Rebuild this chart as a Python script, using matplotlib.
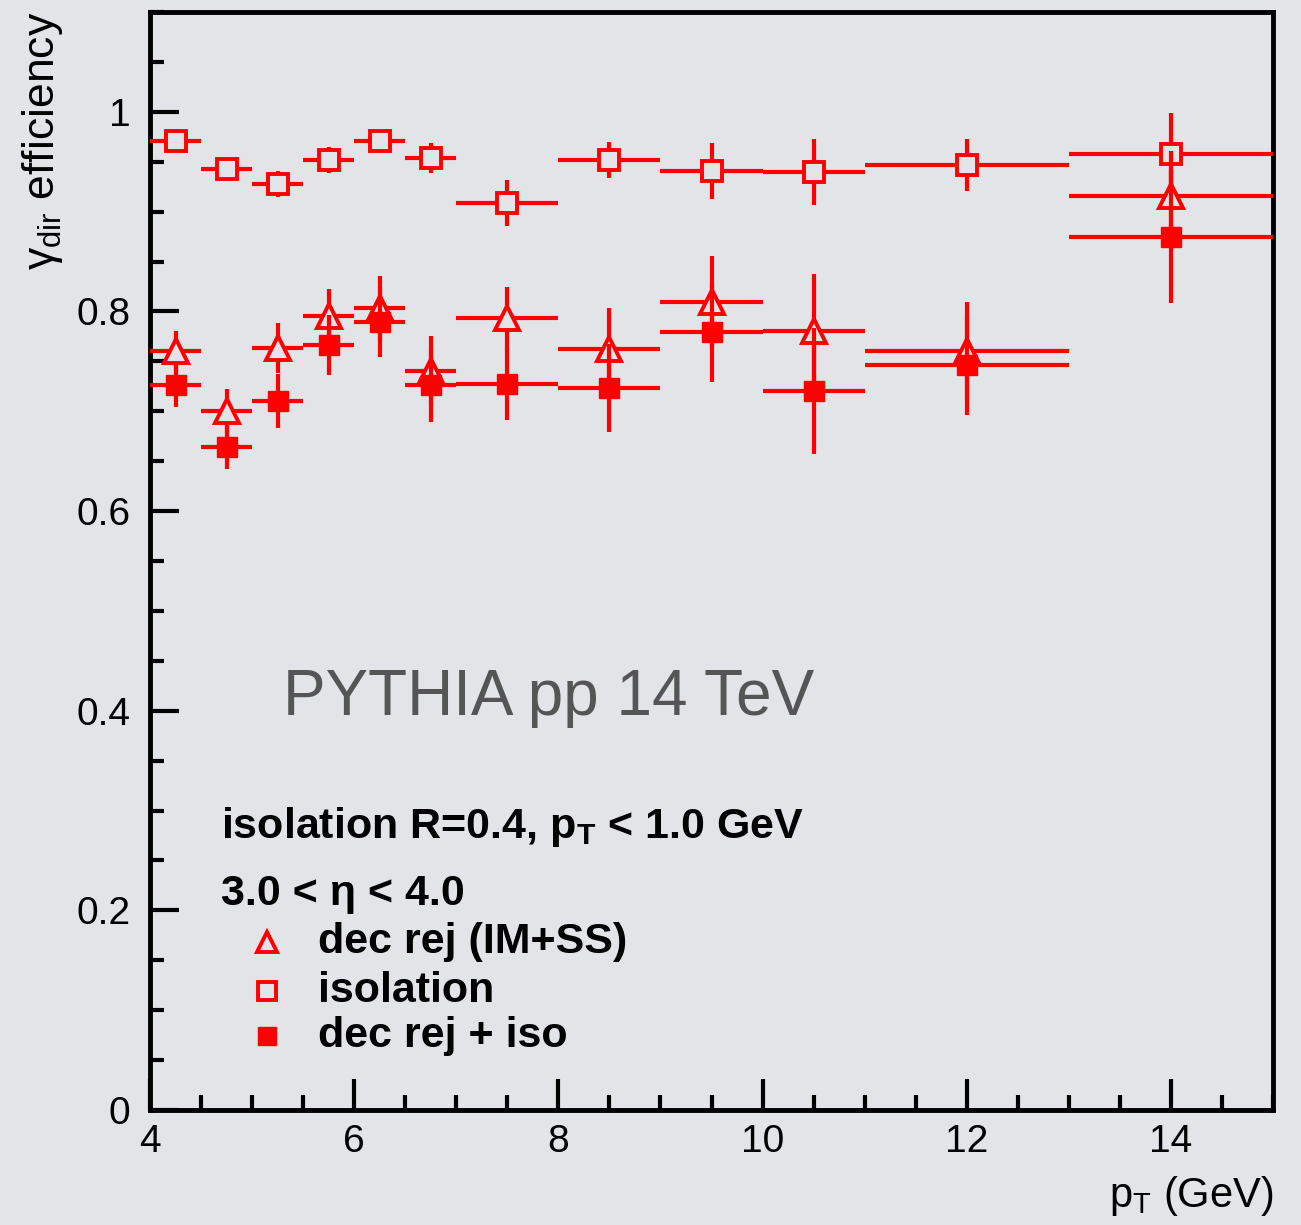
import numpy as np
from matplotlib import pyplot as plt
from matplotlib import font_manager

# bins in pT (GeV)
bin_lo = [4.0, 4.5, 5.0, 5.5, 6.0, 6.5, 7.0, 8.0, 9.0, 10.0, 11.0, 13.0]
bin_hi = [4.5, 5.0, 5.5, 6.0, 6.5, 7.0, 8.0, 9.0, 10.0, 11.0, 13.0, 15.0]

# isolation (open squares)
iso_eff = [0.971, 0.943, 0.928, 0.952, 0.971, 0.954, 0.909, 0.952, 0.941, 0.940, 0.947, 0.958]
iso_err = [0.010, 0.010, 0.013, 0.013, 0.010, 0.015, 0.023, 0.018, 0.028, 0.033, 0.026, 0.041]

# dec rej (IM+SS) (open triangles)
dec_eff = [0.760, 0.700, 0.763, 0.795, 0.803, 0.740, 0.793, 0.762, 0.809, 0.780, 0.760, 0.916]
dec_err = [0.020, 0.022, 0.025, 0.027, 0.033, 0.035, 0.032, 0.041, 0.047, 0.058, 0.049, 0.045]

# dec rej + iso (filled squares)
both_eff = [0.726, 0.664, 0.710, 0.766, 0.789, 0.726, 0.727, 0.723, 0.779, 0.720, 0.746, 0.875]
both_err = [0.022, 0.022, 0.027, 0.030, 0.035, 0.037, 0.036, 0.044, 0.050, 0.063, 0.050, 0.067]

bg = '#e2e4e8'
red = '#ff0000'

names = [f.name for f in font_manager.fontManager.ttflist]
narrow = 'Liberation Sans Narrow' if 'Liberation Sans Narrow' in names else 'Liberation Sans'
plt.rcParams['font.family'] = ['Liberation Sans', 'DejaVu Sans']
plt.rcParams['mathtext.fontset'] = 'custom'
plt.rcParams['mathtext.rm'] = 'Liberation Sans'

x = (np.array(bin_lo) + np.array(bin_hi)) / 2
xerr = (np.array(bin_hi) - np.array(bin_lo)) / 2

fig = plt.figure(figsize=(13.01, 12.25), dpi=100, facecolor=bg)
ax = fig.add_axes([150/1301, 115/1225, 1123/1301, 1098/1225])
ax.set_facecolor(bg)

lw = 3.0
ax.errorbar(x, iso_eff, xerr=xerr, yerr=iso_err, fmt='s', color=red, ms=15,
            mfc=bg, mec=red, mew=2.8, elinewidth=lw, capsize=0, zorder=3)
ax.errorbar(x, dec_eff, xerr=xerr, yerr=dec_err, fmt='^', color=red, ms=17,
            mfc=bg, mec=red, mew=2.8, elinewidth=lw, capsize=0, zorder=4)
ax.errorbar(x, both_eff, xerr=xerr, yerr=both_err, fmt='s', color=red, ms=15,
            mfc=red, mec=red, elinewidth=lw, capsize=0, zorder=5)

ax.set_xlim(4, 15)
ax.set_ylim(0, 1.1)
ax.set_xticks([4, 6, 8, 10, 12, 14])
ax.set_xticks(np.arange(4, 15.01, 0.5), minor=True)
ax.set_yticks([0, 0.2, 0.4, 0.6, 0.8, 1.0])
ax.set_yticklabels(['0', '0.2', '0.4', '0.6', '0.8', '1'])
ax.set_yticks(np.arange(0, 1.101, 0.05), minor=True)
ax.tick_params(which='both', direction='in', width=3, color='black',
               top=False, right=False, labelsize=28)
ax.tick_params(axis='x', which='major', length=22, pad=10)
ax.tick_params(axis='x', which='minor', length=11)
ax.tick_params(axis='y', which='major', length=21, pad=14)
ax.tick_params(axis='y', which='minor', length=10)
for lab in ax.get_xticklabels() + ax.get_yticklabels():
    lab.set_family(narrow)
for sp in ax.spines.values():
    sp.set_linewidth(3.5)

ax.text(1.0, -0.058, r'p$_{\mathregular{T}}$ (GeV)', fontsize=30, family=narrow,
        transform=ax.transAxes, ha='right', va='top')
ax.set_ylabel(r'γ$_{\mathregular{dir}}$ efficiency', fontsize=32)
ax.yaxis.set_label_coords(-0.076, 1.0)
ax.yaxis.label.set_horizontalalignment('right')

ax.text(5.3, 0.396, 'PYTHIA pp 14 TeV', fontsize=46, color='#555555')
ax.text(4.7, 0.272, r'isolation R=0.4, p$_{\mathregular{T}}$ < 1.0 GeV', fontsize=31,
        fontweight='bold', family=narrow)
ax.text(4.7, 0.205, '3.0 < η < 4.0', fontsize=31, fontweight='bold', family=narrow)

leg_y = [0.168, 0.119, 0.074]
leg_lab = ['dec rej (IM+SS)', 'isolation', 'dec rej + iso']
ax.plot(5.15, leg_y[0], '^', ms=15, mfc=bg, mec=red, mew=2.8)
ax.plot(5.15, leg_y[1], 's', ms=13, mfc=bg, mec=red, mew=2.8)
ax.plot(5.15, leg_y[2], 's', ms=13, color=red)
for yy, lab in zip(leg_y, leg_lab):
    ax.text(5.65, yy, lab, fontsize=31, fontweight='bold', family=narrow, va='center')

plt.savefig('out.png', dpi=100, facecolor=bg)
